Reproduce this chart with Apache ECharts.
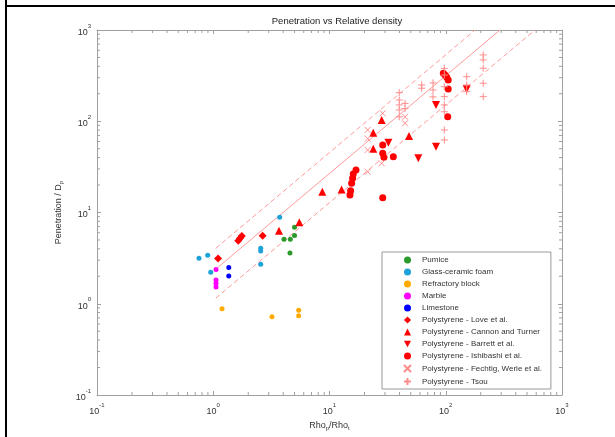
<!DOCTYPE html>
<html>
<head>
<meta charset="utf-8">
<title>Penetration vs Relative density</title>
<script src="https://cdn.jsdelivr.net/npm/echarts@6/dist/echarts.min.js"></script>
<style>
  html, body { margin: 0; padding: 0; background: #fff; }
  #chart { width: 615px; height: 437px; }
</style>
</head>
<body>
<div id="chart"></div>
<script>
  // points as [Rho_p/Rho_t, Penetration/Dp]
  const pumice = [[4.06, 5.1], [4.6, 5.1], [5.0, 5.6], [5.0, 6.9], [4.57, 3.6]]
  const glassFoam = [[0.754, 3.15], [0.896, 3.4], [0.951, 2.21], [2.56, 4.05], [2.56, 3.79], [2.56, 2.71], [3.73, 8.86]]
  const refractory = [[1.19, 0.88], [3.2, 0.72], [5.43, 0.85], [5.43, 0.74]]
  const marble = [[1.056, 2.37], [1.056, 1.82], [1.056, 1.68], [1.056, 1.53]]
  const limestone = [[1.36, 2.5], [1.36, 2.01]]
  const love = [[1.1, 3.13], [1.64, 4.91], [1.7, 5.22], [1.76, 5.53], [2.66, 5.57]]
  const cannon = [[3.68, 6.32], [5.5, 7.81], [8.67, 16.9], [12.7, 17.9], [23.8, 74.9], [28.1, 103], [23.8, 50], [48.3, 68.9]]
  const barrett = [[32.1, 58.2], [58.1, 39.3], [82.4, 150.7], [82.4, 52.6], [151.4, 223.9]]
  const ishibashi = [[16.9, 29.2], [16.0, 26.4], [15.8, 23.7], [15.5, 20.9], [15.2, 17.3], [15.0, 15.6],
    [28.7, 14.5], [28.7, 54.9], [28.7, 44.5], [29.4, 40.3], [35.4, 40.9],
    [95.3, 335], [98.6, 321], [102, 303], [105, 283], [105, 226], [104, 112]]
  const fechtig = [[21.3, 80.2], [21.3, 64.4], [21.3, 48.4], [21.3, 28.0], [28.1, 34.6], [28.7, 122], [44.6, 112], [44.6, 95]]
  const tsou = [[39.8, 206], [39.8, 171], [39.8, 151], [39.8, 133], [39.8, 112], [44.6, 157], [44.6, 138],
    [62.1, 250], [62.1, 230], [77.7, 263], [77.7, 220], [77.7, 185],
    [97.2, 380], [97.2, 321], [97.2, 239], [97.2, 186], [97.2, 151], [97.2, 127], [97.2, 80.2], [97.2, 62.4],
    [151.4, 308], [151.4, 250], [151.4, 211],
    [210, 533], [210, 470], [210, 381], [210, 261], [210, 186]]

  // fit line and its bounds
  const fitMid = [[1.05, 2.39], [293, 1000]]
  const fitHigh = [[1.05, 4.05], [179, 1000]]
  const fitLow = [[1.05, 1.15], [586, 1000]]

  // minor tick values (same on both axes)
  const minorTicks = [0.2, 0.3, 0.4, 0.5, 0.6, 0.7, 0.8, 0.9, 2, 3, 4, 5, 6, 7, 8, 9,
    20, 30, 40, 50, 60, 70, 80, 90, 200, 300, 400, 500, 600, 700, 800, 900]

  const legendNames = ['Pumice', 'Glass-ceramic foam', 'Refractory block', 'Marble', 'Limestone',
    'Polystyrene - Love et al.', 'Polystyrene - Cannon and Turner', 'Polystyrene - Barrett et al.',
    'Polystyrene - Ishibashi et al.', 'Polystyrene - Fechtig, Werle et al.', 'Polystyrene - Tsou']

  const font = 'Liberation Sans, Arial, sans-serif'
  const axisGray = '#a0a0a0'
  const fitColor = '#ff9a9a'
  const lightRed = '#ff8c8c'
  const tickStyle = { stroke: axisGray, lineWidth: 1 }
  const downTriangle = 'path://M0,0L10,0L5,9Z'

  const chart = echarts.init(document.getElementById('chart'))

  function expLabel(v) {
    return '{b|10}{s|' + Math.round(Math.log10(v)) + '}'
  }

  const labelRich = {
    b: { fontSize: 9, lineHeight: 14, verticalAlign: 'bottom', color: '#333', fontFamily: font },
    s: { fontSize: 6, lineHeight: 6, verticalAlign: 'top', color: '#333', fontFamily: font }
  }

  function scatter(name, data, symbol, size, color, extra) {
    return Object.assign({
      name: name,
      type: 'scatter',
      data: data,
      symbol: symbol,
      symbolSize: size,
      itemStyle: { color: color, opacity: 1 },
      z: 3
    }, extra || {})
  }

  function fitLine(data, dashed) {
    return {
      type: 'line',
      data: data,
      symbol: 'none',
      silent: true,
      lineStyle: { color: fitColor, width: 1, type: dashed ? [5, 3] : 'solid' },
      z: 2
    }
  }

  function xTickItem(params, api) {
    const cs = params.coordSys
    const x = api.coord([api.value(0), 1])[0]
    const bottom = cs.y + cs.height
    return {
      type: 'group',
      children: [
        { type: 'line', shape: { x1: x, y1: bottom, x2: x, y2: bottom - 3 }, style: tickStyle },
        { type: 'line', shape: { x1: x, y1: cs.y, x2: x, y2: cs.y + 3 }, style: tickStyle }
      ]
    }
  }

  function yTickItem(params, api) {
    const cs = params.coordSys
    const y = api.coord([1, api.value(1)])[1]
    const right = cs.x + cs.width
    return {
      type: 'group',
      children: [
        { type: 'line', shape: { x1: cs.x, y1: y, x2: cs.x + 3, y2: y }, style: tickStyle },
        { type: 'line', shape: { x1: right, y1: y, x2: right - 3, y2: y }, style: tickStyle }
      ]
    }
  }

  const logAxisBase = {
    type: 'log',
    logBase: 10,
    min: 0.1,
    max: 1000,
    axisLine: { show: true, lineStyle: { color: axisGray, width: 1 } },
    axisTick: { show: true, inside: true, length: 4, lineStyle: { color: axisGray } },
    splitLine: { show: false }
  }

  const legendData = legendNames.map(function (n) {
    return n === 'Polystyrene - Barrett et al.' ? { name: n, icon: downTriangle } : { name: n }
  })

  const option = {
    animation: false,
    backgroundColor: '#fff',
    textStyle: { fontFamily: font },
    title: {
      text: 'Penetration vs Relative density',
      left: 332,
      textAlign: 'center',
      top: 11,
      textStyle: { fontSize: 9.5, fontWeight: 'normal', color: '#222', fontFamily: font }
    },
    grid: { left: 97, right: 53, top: 30, bottom: 42 },
    legend: {
      data: legendData,
      orient: 'vertical',
      left: 382,
      top: 252,
      padding: [4, 9, 3, 21],
      itemWidth: 7,
      itemHeight: 7,
      itemGap: 4,
      symbolKeepAspect: true,
      borderColor: '#999',
      borderWidth: 1,
      backgroundColor: '#fff',
      textStyle: { fontSize: 8, lineHeight: 8, color: '#333', fontFamily: font, padding: [0, 0, 0, 6] }
    },
    xAxis: [
      Object.assign({}, logAxisBase, {
        name: '{n|Rho}{d|p}{n|/Rho}{d|t}',
        nameLocation: 'middle',
        nameGap: 22,
        nameTextStyle: {
          rich: {
            n: { fontSize: 9, lineHeight: 12, color: '#333', fontFamily: font },
            d: { fontSize: 6, lineHeight: 6, verticalAlign: 'bottom', color: '#333', fontFamily: font }
          }
        },
        axisLabel: { margin: 7, formatter: expLabel, rich: labelRich }
      }),
      Object.assign({}, logAxisBase, { position: 'top', axisLabel: { show: false } })
    ],
    yAxis: [
      Object.assign({}, logAxisBase, {
        name: '{n|Penetration / D}{d|p}',
        nameLocation: 'middle',
        nameGap: 30,
        nameTextStyle: {
          rich: {
            n: { fontSize: 9, lineHeight: 12, color: '#333', fontFamily: font },
            d: { fontSize: 6, lineHeight: 6, verticalAlign: 'bottom', color: '#333', fontFamily: font }
          }
        },
        axisLabel: { margin: 6, formatter: expLabel, rich: labelRich }
      }),
      Object.assign({}, logAxisBase, { position: 'right', axisLabel: { show: false } })
    ],
    graphic: [
      { type: 'line', shape: { x1: 6, y1: 0, x2: 6, y2: 437 }, style: { stroke: '#000', lineWidth: 2 } },
      { type: 'line', shape: { x1: 6, y1: 6, x2: 615, y2: 6 }, style: { stroke: '#000', lineWidth: 2 } }
    ],
    series: [
      fitLine(fitMid, false),
      fitLine(fitHigh, true),
      fitLine(fitLow, true),
      { type: 'custom', silent: true, data: minorTicks.map(v => [v, 1]), renderItem: xTickItem, z: 1 },
      { type: 'custom', silent: true, data: minorTicks.map(v => [1, v]), renderItem: yTickItem, z: 1 },
      scatter(legendNames[0], pumice, 'circle', 5, '#2a9a2a'),
      scatter(legendNames[1], glassFoam, 'circle', 5, '#1ea3d8'),
      scatter(legendNames[2], refractory, 'circle', 5, '#ffaa00'),
      scatter(legendNames[3], marble, 'circle', 5, '#ff00ff'),
      scatter(legendNames[4], limestone, 'circle', 5, '#0000ff'),
      scatter(legendNames[5], love, 'diamond', 8, '#ff0000'),
      scatter(legendNames[6], cannon, 'triangle', 8, '#ff0000'),
      scatter(legendNames[7], barrett, downTriangle, 8, '#ff0000'),
      scatter(legendNames[8], ishibashi, 'circle', 7, '#ff0000'),
      scatter(legendNames[9], fechtig, 'path://M0,0L10,10M10,0L0,10', 6, 'transparent',
        { itemStyle: { color: 'transparent', borderColor: lightRed, borderWidth: 1, opacity: 1 } }),
      scatter(legendNames[10], tsou, 'path://M5,0L5,10M0,5L10,5', 7, 'transparent',
        { itemStyle: { color: 'transparent', borderColor: lightRed, borderWidth: 1, opacity: 1 } })
    ]
  }

  chart.setOption(option)
</script>
</body>
</html>
